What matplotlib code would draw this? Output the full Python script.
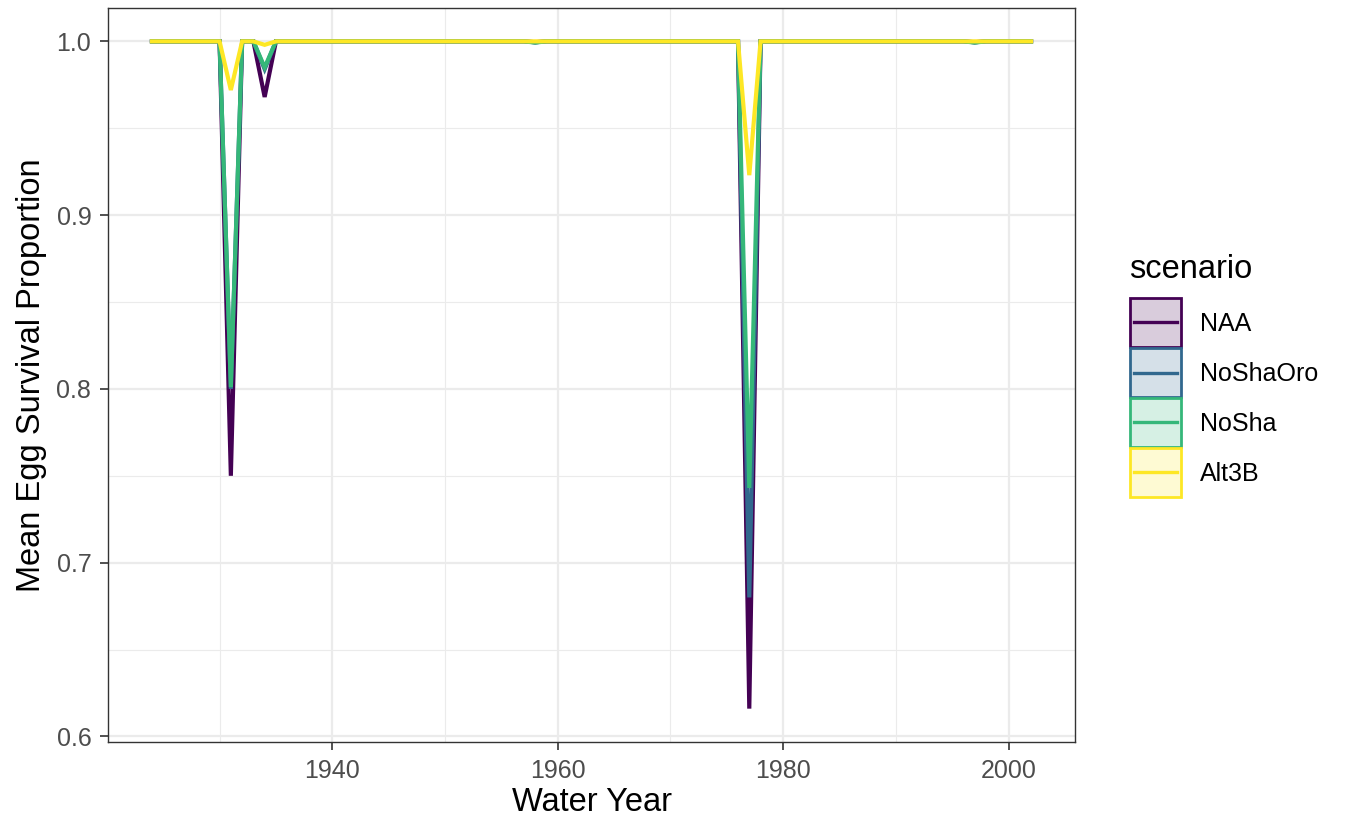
import numpy as np
import matplotlib
matplotlib.use("Agg")
import matplotlib.pyplot as plt
from matplotlib.patches import Rectangle
from matplotlib.lines import Line2D
from matplotlib.colors import to_rgba

plt.rcParams['font.family'] = ['Liberation Sans', 'DejaVu Sans']

years = np.arange(1924, 2003)
scenarios = ["NAA", "NoShaOro", "NoSha", "Alt3B"]
colors = ["#440154", "#31688E", "#35B779", "#FDE725"]

# dip years and values per scenario (all other years are 1.0)
dip_years = [1931, 1934, 1958, 1977, 1997]
naa_dips      = [0.750, 0.968, 0.9995, 0.616, 0.9995]
noshaoro_dips = [0.800, 0.984, 0.9995, 0.680, 0.9995]
nosha_dips    = [0.801, 0.985, 0.9993, 0.743, 0.9993]
alt3b_dips    = [0.972, 0.998, 1.000, 0.923, 1.000]
dips = {"NAA": naa_dips, "NoShaOro": noshaoro_dips, "NoSha": nosha_dips, "Alt3B": alt3b_dips}

W, H = 1348, 818
fig = plt.figure(figsize=(W/100, H/100), dpi=100)
ax = fig.add_axes([108/W, 1-742/H, (1075-108)/W, (742-8)/H])

for s, c in zip(scenarios, colors):
    vals = np.ones(len(years))
    for y, v in zip(dip_years, dips[s]):
        vals[years == y] = v
    ax.plot(years, vals, color=c, lw=3.0, solid_joinstyle='miter', zorder=3)

ax.set_xlim(1920.1, 2005.9)
ax.set_ylim(0.5968, 1.0192)
ax.set_xticks([1940, 1960, 1980, 2000])
ax.set_yticks([0.6, 0.7, 0.8, 0.9, 1.0])
ax.set_yticklabels(["0.6", "0.7", "0.8", "0.9", "1.0"])
ax.set_xticks([1930, 1950, 1970, 1990], minor=True)
ax.set_yticks([0.65, 0.75, 0.85, 0.95], minor=True)
ax.grid(True, which='major', color='#EBEBEB', lw=1.6, zorder=0)
ax.grid(True, which='minor', color='#EBEBEB', lw=0.8, zorder=0)
ax.set_axisbelow(True)
for sp in ax.spines.values():
    sp.set_color('#333333')
    sp.set_linewidth(1.0)
ax.tick_params(which='major', length=6, width=1.2, color='#333333',
               labelsize=18, labelcolor='#4D4D4D', pad=6)
ax.tick_params(which='minor', length=0)
ax.set_xlabel("Water Year", fontsize=23.5, labelpad=3)
ax.set_ylabel("Mean Egg Survival Proportion", fontsize=23.5, labelpad=7)

# legend drawn manually in figure pixel coordinates
def fx(px):
    return px / W

def fy(py):
    return 1 - py / H

fig.text(fx(1129), fy(270), "scenario", fontsize=23.5, ha='left', va='center')
box_tops = [298, 348, 398, 448]
for top, s, c in zip(box_tops, scenarios, colors):
    r = Rectangle((fx(1130), fy(top + 49)), fx(1181) - fx(1130), fy(top) - fy(top + 49),
                  transform=fig.transFigure, facecolor=to_rgba(c, 0.2),
                  edgecolor=c, lw=2.0)
    fig.add_artist(r)
    ymid = fy(top + 24.5)
    fig.add_artist(Line2D([fx(1134), fx(1177)], [ymid, ymid], color=c, lw=2.4,
                          transform=fig.transFigure))
    fig.text(fx(1200), fy(top + 26), s, fontsize=18, ha='left', va='center')

fig.savefig("out.png", dpi=100)
